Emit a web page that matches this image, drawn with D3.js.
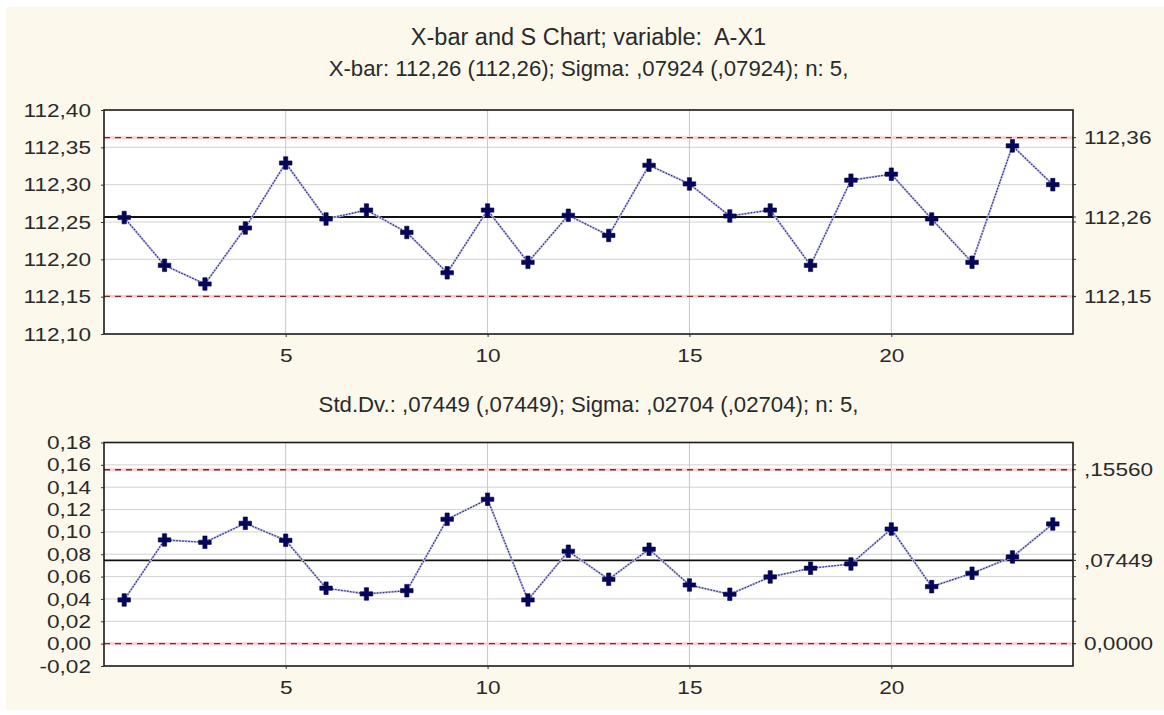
<!DOCTYPE html>
<html>
<head>
<meta charset="utf-8">
<script src="https://cdn.jsdelivr.net/npm/d3@7"></script>
<style>
  body { margin: 0; background: #ffffff; }
  svg { display: block; }
  text { font-family: "Liberation Sans", Arial, sans-serif; fill: #2a2a2a; white-space: pre; }
</style>
</head>
<body>
<svg id="chart" width="1164" height="715"></svg>
<script>
// Subgroup numbers
const samples = [1, 2, 3, 4, 5, 6, 7, 8, 9, 10, 11, 12, 13, 14, 15, 16, 17, 18, 19, 20, 21, 22, 23, 24];
// Subgroup means (X-bar)
const sampleMeans = [112.256, 112.192, 112.167, 112.242, 112.329, 112.254, 112.266, 112.236,
                     112.182, 112.266, 112.196, 112.259, 112.232, 112.326, 112.301, 112.258,
                     112.266, 112.192, 112.306, 112.314, 112.254, 112.196, 112.352, 112.300];
// Subgroup standard deviations (S)
const sampleSDs = [0.0391, 0.0928, 0.0907, 0.1077, 0.0925, 0.0496, 0.0445, 0.0474,
                   0.1113, 0.1292, 0.0391, 0.0827, 0.0576, 0.0845, 0.0525, 0.0442,
                   0.0597, 0.0675, 0.0713, 0.1026, 0.0510, 0.0630, 0.0776, 0.1071];

const xTicks = [5, 10, 15, 20];
const meanTicks = [112.10, 112.15, 112.20, 112.25, 112.30, 112.35, 112.40];
const sdTicks = [-0.02, 0.00, 0.02, 0.04, 0.06, 0.08, 0.10, 0.12, 0.14, 0.16, 0.18];

// Control limits: lower, centre, upper
const meanLimits = [112.1504, 112.2567, 112.3630];
const meanLimitLabels = ["112,15", "112,26", "112,36"];
const sdLimits = [0.0, 0.07449, 0.15560];
const sdLimitLabels = ["0,0000", ",07449", ",15560"];

const titleText = "X-bar and S Chart; variable:  A-X1";
const meanSubtitle = "X-bar: 112,26 (112,26); Sigma: ,07924 (,07924); n: 5,";
const sdSubtitle = "Std.Dv.: ,07449 (,07449); Sigma: ,02704 (,02704); n: 5,";

const W = 1164, H = 715;
const plotLeft = 104, plotRight = 1073;
// axis labels: compact height, wide glyphs
const labelSize = 19;
const labelStretch = 1.19;
const svg = d3.select("#chart");

// cream page background
svg.append("rect").attr("x", 6).attr("y", 7).attr("width", W - 6).attr("height", H - 12)
  .attr("fill", "#fcf8ec");

const commaLocale = d3.formatLocale({ decimal: ",", thousands: " ", grouping: [3], currency: ["", ""], minus: "-" });
const fmt2 = commaLocale.format(".2f");

const x = d3.scaleLinear().domain([0.5, 24.5]).range([plotLeft, plotRight]);
const cx = (plotLeft + plotRight) / 2;

svg.append("text").attr("x", cx).attr("y", 45).attr("text-anchor", "middle")
  .attr("font-size", 23.5).text(titleText);

function styleLabel(sel, dx) {
  sel.attr("x", 0)
    .attr("transform", `translate(${dx},0) scale(${labelStretch},1)`)
    .attr("font-size", labelSize).attr("fill", "#2a2a2a")
    .attr("font-family", "Liberation Sans, Arial, sans-serif");
}

function drawPanel(cfg) {
  const { top, bottom, domain, ticks, values, limits, limitLabels, subtitle, subtitleY } = cfg;
  const y = d3.scaleLinear().domain(domain).range([bottom, top]);
  const g = svg.append("g");

  svg.append("text").attr("x", cx).attr("y", subtitleY).attr("text-anchor", "middle")
    .attr("font-size", 22.2).text(subtitle);

  // plot area
  g.append("rect").attr("x", plotLeft).attr("y", top)
    .attr("width", plotRight - plotLeft).attr("height", bottom - top)
    .attr("fill", "#ffffff");

  // horizontal grid
  g.append("g").selectAll("line").data(ticks.slice(1, -1)).join("line")
    .attr("x1", plotLeft).attr("x2", plotRight)
    .attr("y1", d => y(d)).attr("y2", d => y(d))
    .attr("stroke", "#d2d2d2").attr("stroke-width", 1);

  // vertical grid
  g.append("g").selectAll("line").data(xTicks).join("line")
    .attr("x1", d => x(d)).attr("x2", d => x(d))
    .attr("y1", top).attr("y2", bottom)
    .attr("stroke", "#c6c6cf").attr("stroke-width", 1);

  // control limits (dashed) and centre line (solid)
  g.append("g").selectAll("line").data([limits[0], limits[2]]).join("line")
    .attr("x1", plotLeft).attr("x2", plotRight)
    .attr("y1", d => y(d)).attr("y2", d => y(d))
    .attr("stroke", "#f5d2d2").attr("stroke-width", 3);
  g.append("g").selectAll("line").data([limits[0], limits[2]]).join("line")
    .attr("x1", plotLeft).attr("x2", plotRight)
    .attr("y1", d => y(d)).attr("y2", d => y(d))
    .attr("stroke", "#7e2a2a").attr("stroke-width", 1.3)
    .attr("stroke-dasharray", "6,5");
  g.append("line")
    .attr("x1", plotLeft).attr("x2", plotRight)
    .attr("y1", y(limits[1])).attr("y2", y(limits[1]))
    .attr("stroke", "#111111").attr("stroke-width", 1.8);

  // data line
  const line = d3.line().x((d, i) => x(samples[i])).y(d => y(d));
  g.append("path").datum(values).attr("d", line)
    .attr("fill", "none").attr("stroke", "#c2c2e6").attr("stroke-width", 2.2);
  g.append("path").datum(values).attr("d", line)
    .attr("fill", "none").attr("stroke", "#2e2e8a").attr("stroke-width", 1.2)
    .attr("stroke-dasharray", "1.6,1.4");

  // markers
  const sym = d3.symbol().type(d3.symbolCross).size(88);
  g.append("g").selectAll("path").data(values).join("path")
    .attr("transform", (d, i) => `translate(${x(samples[i])},${y(d)})`)
    .attr("d", sym).attr("fill", "#05055e").attr("stroke", "#00003a").attr("stroke-width", 0.6);

  // frame
  g.append("rect").attr("x", plotLeft).attr("y", top)
    .attr("width", plotRight - plotLeft).attr("height", bottom - top)
    .attr("fill", "none").attr("stroke", "#1a1a1a").attr("stroke-width", 1.6);

  // left axis
  const left = g.append("g").attr("transform", `translate(${plotLeft},0)`)
    .call(d3.axisLeft(y).tickValues(ticks).tickFormat(fmt2).tickSize(3).tickPadding(10));
  left.select(".domain").remove();
  left.selectAll("line").attr("stroke", "#333");
  left.selectAll("text").call(styleLabel, -13);

  // right side ticks and limit labels
  const rightTicks = ticks.slice(1, -1).concat(limits);
  g.append("g").selectAll("line").data(rightTicks).join("line")
    .attr("x1", plotRight).attr("x2", plotRight + 3)
    .attr("y1", d => y(d)).attr("y2", d => y(d))
    .attr("stroke", "#333");
  g.append("g").selectAll("text").data(limits).join("text")
    .attr("y", d => y(d)).attr("dy", "0.35em")
    .text((d, i) => limitLabels[i])
    .call(styleLabel, plotRight + 11);

  // bottom axis
  const bottomAxis = g.append("g").attr("transform", `translate(0,${bottom})`)
    .call(d3.axisBottom(x).tickValues(xTicks).tickFormat(d3.format("d")).tickSize(3).tickPadding(12));
  bottomAxis.select(".domain").remove();
  bottomAxis.selectAll("line").attr("stroke", "#333");
  bottomAxis.selectAll("text").call(styleLabel, 0);
}

drawPanel({
  top: 110, bottom: 334, domain: [112.10, 112.40], ticks: meanTicks,
  values: sampleMeans, limits: meanLimits, limitLabels: meanLimitLabels,
  subtitle: meanSubtitle, subtitleY: 76
});

drawPanel({
  top: 442.5, bottom: 666, domain: [-0.02, 0.18], ticks: sdTicks,
  values: sampleSDs, limits: sdLimits, limitLabels: sdLimitLabels,
  subtitle: sdSubtitle, subtitleY: 412
});
</script>
</body>
</html>
